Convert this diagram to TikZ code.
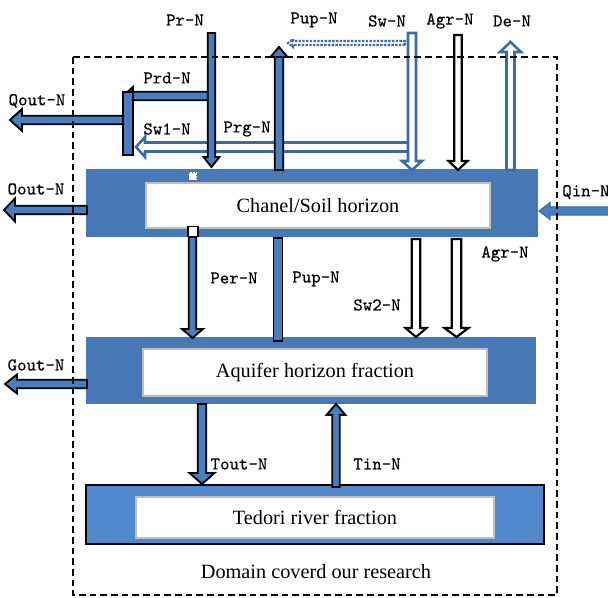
\documentclass[tikz,border=0pt]{standalone}
\usepackage{fontspec}
\setmainfont{Liberation Serif}
\newfontfamily\fluxfont{lmmono10-regular.otf}[FakeBold=0.3]
\usetikzlibrary{calc}

\definecolor{boxblue}{RGB}{72,121,182}
\definecolor{riverblue}{RGB}{82,136,204}
\definecolor{arrowblue}{RGB}{74,125,190}
\definecolor{edgeblue}{RGB}{62,106,162}

% Block arrow: style, tail, tip, half shaft width, half head width, head length (px)
\newcommand\fatarrow[6]{%
  \pgfmathsetlengthmacro\fahs{#4*0.75pt}%
  \pgfmathsetlengthmacro\fahh{#5*0.75pt}%
  \pgfmathsetlengthmacro\fahl{#6*0.75pt}%
  \coordinate (fa-base) at ($(#3)!\fahl!(#2)$);%
  \path[#1] ($(#2)!\fahs!90:(#3)$) -- ($(fa-base)!\fahs!90:(#3)$)
    -- ($(fa-base)!\fahh!90:(#3)$) -- (#3) -- ($(fa-base)!\fahh!-90:(#3)$)
    -- ($(fa-base)!\fahs!-90:(#3)$) -- ($(#2)!\fahs!-90:(#3)$) -- cycle;%
}

\tikzset{
  layerbox/.style={draw=none, fill=boxblue, inner sep=0pt, outer sep=0pt},
  riverbox/.style={draw=black, line width=1.5pt, fill=riverblue, inner sep=0pt, outer sep=0pt},
  innerbox/.style={draw=black!25, line width=0.8pt, fill=white, inner sep=0pt, outer sep=0pt,
    font=\fontsize{15.2}{18}\selectfont},
  bluearrow/.style={fill=arrowblue, draw=black, line width=1.4pt, line join=miter},
  hollowblue/.style={fill=white, draw=edgeblue, line width=1.9pt, line join=miter},
  hollowblack/.style={fill=white, draw=black, line width=1.6pt, line join=miter},
  inflow/.style={fill=arrowblue, draw=edgeblue, line width=0.8pt, line join=miter},
  dottedflow/.style={draw=edgeblue, line width=1.6pt, dash pattern=on 1.8pt off 1pt},
  flowbar/.style={fill=arrowblue, draw=black, line width=1.4pt},
  fluxlabel/.style={font=\fontsize{13.5}{16}\selectfont\fluxfont, inner sep=0pt},
  domainline/.style={draw=black, line width=1.5pt, dash pattern=on 5pt off 3pt},
}

\begin{document}
\begin{tikzpicture}[x=0.75pt, y=-0.75pt]
\useasboundingbox (0,0) rectangle (608,598);

% --- compartments ---
\node[layerbox, minimum width=339pt, minimum height=51pt] (chan) at (312,203) {};
\node[innerbox, minimum width=258pt, minimum height=33.75pt] (chanin) at (318,205.5) {Chanel/Soil horizon};
\node[layerbox, minimum width=337.5pt, minimum height=50.25pt] (aqu) at (311,370.5) {};
\node[innerbox, minimum width=258pt, minimum height=35.25pt] (aquin) at (315,372.5) {Aquifer horizon fraction};
\node[riverbox, minimum width=343.5pt, minimum height=44.25pt] (ted) at (315,514.5) {};
\node[innerbox, minimum width=268.5pt, minimum height=30.75pt] (tedin) at (315,517.5) {Tedori river fraction};
\node[font=\fontsize{15.2}{18}\selectfont, inner sep=0pt] (domtxt) at (316,572) {Domain coverd our research};

% --- end points of the fluxes ---
\coordinate (sw1s) at (409,147);   \coordinate (sw1t) at (136,147);
\coordinate (dots) at (405,43);    \coordinate (dott) at (288,43);
\coordinate (prds) at (208,96);    \coordinate (prdt) at (123,96);
\coordinate (qos)  at (124,120);   \coordinate (qot)  at (10,120);
\coordinate (prs)  at (211.5,33);  \coordinate (prt)  at (211.5,167);
\coordinate (pus)  at (279,170);   \coordinate (put)  at (279,47);
\coordinate (sws)  at (412,33);    \coordinate (swt)  at (412,170);
\coordinate (ags)  at (458,35);    \coordinate (agt)  at (458,170);
\coordinate (des)  at (510.5,170); \coordinate (det)  at (510.5,42);
\coordinate (oos)  at (87,210);    \coordinate (oot)  at (4,210);
\coordinate (qis)  at (620,211);   \coordinate (qit)  at (539,211);
\coordinate (pes)  at (192.5,237); \coordinate (pet)  at (192.5,338);
\coordinate (s2s)  at (416,239);   \coordinate (s2t)  at (416,337);
\coordinate (a2s)  at (456.5,239); \coordinate (a2t)  at (456.5,337);
\coordinate (gos)  at (87,384);    \coordinate (got)  at (5,384);
\coordinate (tos)  at (202,404);   \coordinate (tot)  at (202,484);
\coordinate (tis)  at (336,487);   \coordinate (tit)  at (336,404);

% --- fluxes above the soil horizon ---
\fatarrow{hollowblue}{sw1s}{sw1t}{4.5}{10}{9}
\fatarrow{dottedflow}{dots}{dott}{2}{4}{5}
\fatarrow{bluearrow}{prds}{prdt}{4.3}{9}{10}
\fatarrow{bluearrow}{qos}{qot}{4.3}{11}{12}
\draw[flowbar] (123,92) rectangle (133,155);
\fatarrow{bluearrow}{prs}{prt}{3.8}{8}{10}
\fatarrow{bluearrow}{pus}{put}{4.3}{8.5}{10}
\fatarrow{hollowblue}{sws}{swt}{4}{10}{9}
\fatarrow{hollowblack}{ags}{agt}{3.8}{9.5}{9}
\fatarrow{hollowblue}{des}{det}{4}{10.5}{10}

% --- lateral and vertical exchanges ---
\fatarrow{bluearrow}{oos}{oot}{4.3}{11.5}{11}
\fatarrow{inflow}{qis}{qit}{4}{8.5}{11}
\fatarrow{bluearrow}{pes}{pet}{3.8}{10.5}{9}
\draw[flowbar] (273.5,238) rectangle (282.5,341);
\fatarrow{hollowblack}{s2s}{s2t}{4.3}{10.5}{9}
\fatarrow{hollowblack}{a2s}{a2t}{4.8}{12}{9}
\fatarrow{bluearrow}{gos}{got}{4.3}{9.5}{12}
\fatarrow{bluearrow}{tos}{tot}{4.3}{12.5}{11}
\fatarrow{bluearrow}{tis}{tit}{3.8}{9.5}{11}

% --- junction markers on the soil horizon ---
\draw[fill=white, draw=black!60, line width=0.6pt, dotted] (188.5,172.5) rectangle (196.5,180.5);
\draw[fill=white, draw=black, line width=1pt] (188,226.5) rectangle (198,236.5);

% --- domain boundary ---
\draw[domainline] (73,57) rectangle (557,595);

% --- flux labels ---
\node[fluxlabel] (lpr)   at (185,20)  {Pr-N};
\node[fluxlabel] (lpup)  at (314,20)  {Pup-N};
\node[fluxlabel] (lsw)   at (387,21)  {Sw-N};
\node[fluxlabel] (lagr)  at (450,21)  {Agr-N};
\node[fluxlabel] (lde)   at (512,21)  {De-N};
\node[fluxlabel] (lprd)  at (167,78)  {Prd-N};
\node[fluxlabel] (lqout) at (37,101)  {Qout-N};
\node[fluxlabel] (lsw1)  at (167,129) {Sw1-N};
\node[fluxlabel] (lprg)  at (247,129) {Prg-N};
\node[fluxlabel] (loout) at (36,189)  {Oout-N};
\node[fluxlabel, anchor=west] (lqin) at (562,192) {Qin-N};
\node[fluxlabel] (lper)  at (234,278) {Per-N};
\node[fluxlabel] (lpup2) at (316,279) {Pup-N};
\node[fluxlabel] (lsw2)  at (377,305) {Sw2-N};
\node[fluxlabel] (lagr2) at (505,254) {Agr-N};
\node[fluxlabel] (lgout) at (36,365)  {Gout-N};
\node[fluxlabel] (ltout) at (239,464) {Tout-N};
\node[fluxlabel] (ltin)  at (377,464) {Tin-N};
\end{tikzpicture}
\end{document}
